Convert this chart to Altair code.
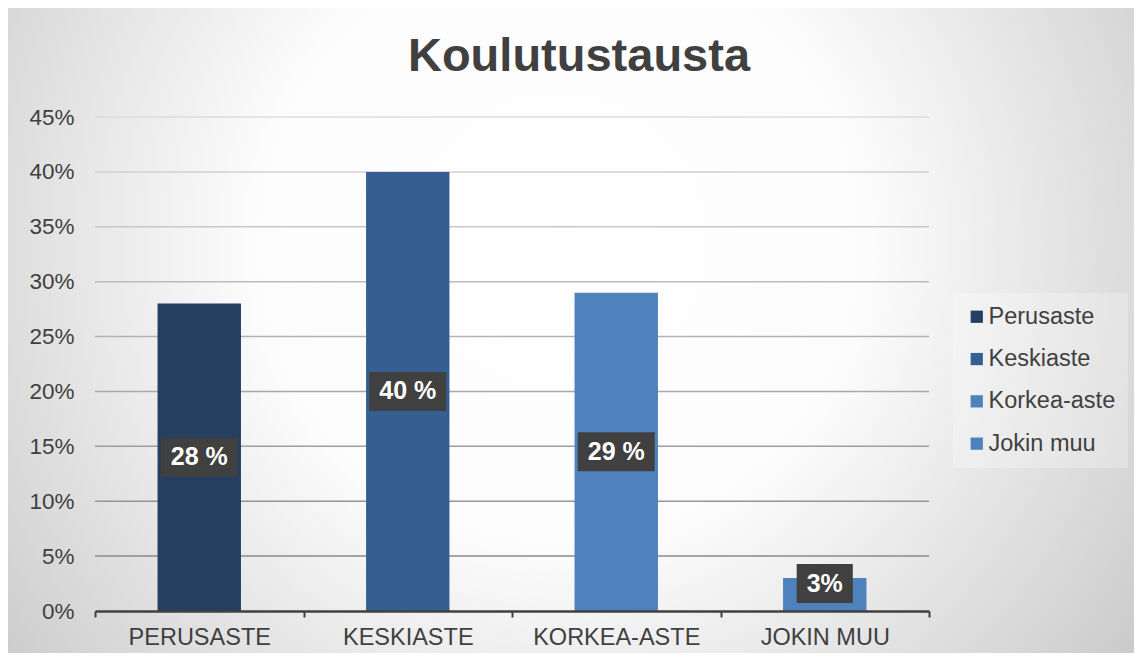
import altair as alt
import pandas as pd

# ---- data ----
categories = ["Perusaste", "Keskiaste", "Korkea-aste", "Jokin muu"]
shares = [0.28, 0.40, 0.29, 0.03]
labels = ["28 %", "40 %", "29 %", "3%"]
colors = ["#243F60", "#365F91", "#4F81BD", "#4F81BD"]
y_ticks = [0.0, 0.05, 0.10, 0.15, 0.20, 0.25, 0.30, 0.35, 0.40, 0.45]
title_text = "Koulutustausta"

# ---- layout ----
W, H = 834, 494
PAD = dict(left=87, top=109, right=205, bottom=42)
FONT = "Liberation Sans"
TXT = "#404040"
LABEL_SIZE = 25

CHAR_W = {"0": 0.556, "1": 0.556, "2": 0.556, "3": 0.556, "4": 0.556,
          "5": 0.556, "6": 0.556, "7": 0.556, "8": 0.556, "9": 0.556,
          "%": 0.889, " ": 0.278}


def box_width(s):
    return sum(CHAR_W.get(c, 0.6) for c in s) * LABEL_SIZE + 20


df = pd.DataFrame({
    "cat": categories,
    "share": shares,
    "label": labels,
    "boxw": [box_width(s) for s in labels],
})
grid_df = pd.DataFrame({"v": y_ticks[1:]})

x_scale = alt.Scale(paddingInner=0, paddingOuter=0)
y_scale = alt.Scale(domain=[0, 0.45], nice=False, zero=True)

x_axis = alt.Axis(
    title=None,
    labelAngle=0,
    labelExpr="upper(datum.label)",
    labelFontSize=23.5,
    labelColor=TXT,
    labelFont=FONT,
    labelPadding=8,
    domain=True,
    domainColor=TXT,
    domainWidth=2.5,
    ticks=True,
    tickBand="extent",
    tickSize=6,
    tickWidth=2,
    tickColor=TXT,
    grid=False,
    zindex=1,
)
y_axis = alt.Axis(
    values=y_ticks,
    format=".0%",
    title=None,
    domain=False,
    ticks=False,
    grid=False,
    labelFontSize=22.5,
    labelColor=TXT,
    labelFont=FONT,
    labelPadding=21,
    zindex=1,
)

x_enc = alt.X("cat:N", sort=categories, scale=x_scale, axis=x_axis)

background = alt.Chart(alt.Data(values=[{"k": 1}])).mark_rect(
    fill=alt.Gradient(
        gradient="radial",
        x1=0.49, y1=0.42, r1=0.0,
        x2=0.49, y2=0.42, r2=0.78,
        stops=[
            alt.GradientStop(offset=0.0, color="#ffffff"),
            alt.GradientStop(offset=0.35, color="#fcfcfc"),
            alt.GradientStop(offset=1.0, color="#b6b6b6"),
        ],
    ),
    strokeWidth=0,
).encode(
    x=alt.value(-PAD["left"]),
    x2=alt.value(W + PAD["right"]),
    y=alt.value(-PAD["top"]),
    y2=alt.value(H + PAD["bottom"]),
)

grid = alt.Chart(grid_df).mark_rule(strokeWidth=1.5).encode(
    y=alt.Y("v:Q", scale=y_scale, axis=y_axis),
    x=alt.value(0),
    x2=alt.value(W),
    stroke=alt.Stroke(
        "v:Q",
        scale=alt.Scale(domain=[0, 0.45], range=["#808080", "#dcdcdc"]),
        legend=None,
    ),
)

bars = alt.Chart(df).mark_bar(width=alt.RelativeBandSize(0.4)).encode(
    x=x_enc,
    y=alt.Y("share:Q", scale=y_scale, axis=y_axis),
    color=alt.Color(
        "cat:N",
        sort=categories,
        scale=alt.Scale(domain=categories, range=colors),
        legend=alt.Legend(
            title=None,
            orient="none",
            legendX=858,
            legendY=176,
            padding=12,
            fillColor="rgba(255,255,255,0.25)",
            labelFontSize=23.5,
            labelColor=TXT,
            labelFont=FONT,
            labelOffset=0,
            symbolType="square",
            symbolSize=150,
            symbolStrokeWidth=0,
            symbolOpacity=1,
            rowPadding=17.3,
        ),
    ),
)

label_base = alt.Chart(df).transform_calculate(
    pos="max(datum.share / 2, 0.025)",
    lo="datum.pos - 0.0178",
    hi="datum.pos + 0.0178",
)

boxes = label_base.mark_bar(color="#404040").encode(
    x=x_enc,
    y=alt.Y("lo:Q", scale=y_scale, axis=y_axis),
    y2="hi:Q",
    size=alt.Size("boxw:Q", scale=None, legend=None),
)

texts = label_base.mark_text(
    color="white", fontSize=LABEL_SIZE, fontWeight="bold", font=FONT,
    baseline="middle", align="center",
).encode(
    x=x_enc,
    y=alt.Y("pos:Q", scale=y_scale, axis=y_axis),
    text="label:N",
)

chart = alt.layer(background, grid, bars, boxes, texts).properties(
    width=W,
    height=H,
    autosize=alt.AutoSizeParams(type="none"),
    padding=PAD,
    title=alt.TitleParams(
        title_text,
        fontSize=47,
        fontWeight="bold",
        color=TXT,
        font=FONT,
        anchor="middle",
        offset=-110,
        dx=67,
        baseline="alphabetic",
    ),
).configure(background="white", font=FONT).configure_view(stroke="transparent")

chart.save("out.html", embed_options={"renderer": "svg", "actions": False})
